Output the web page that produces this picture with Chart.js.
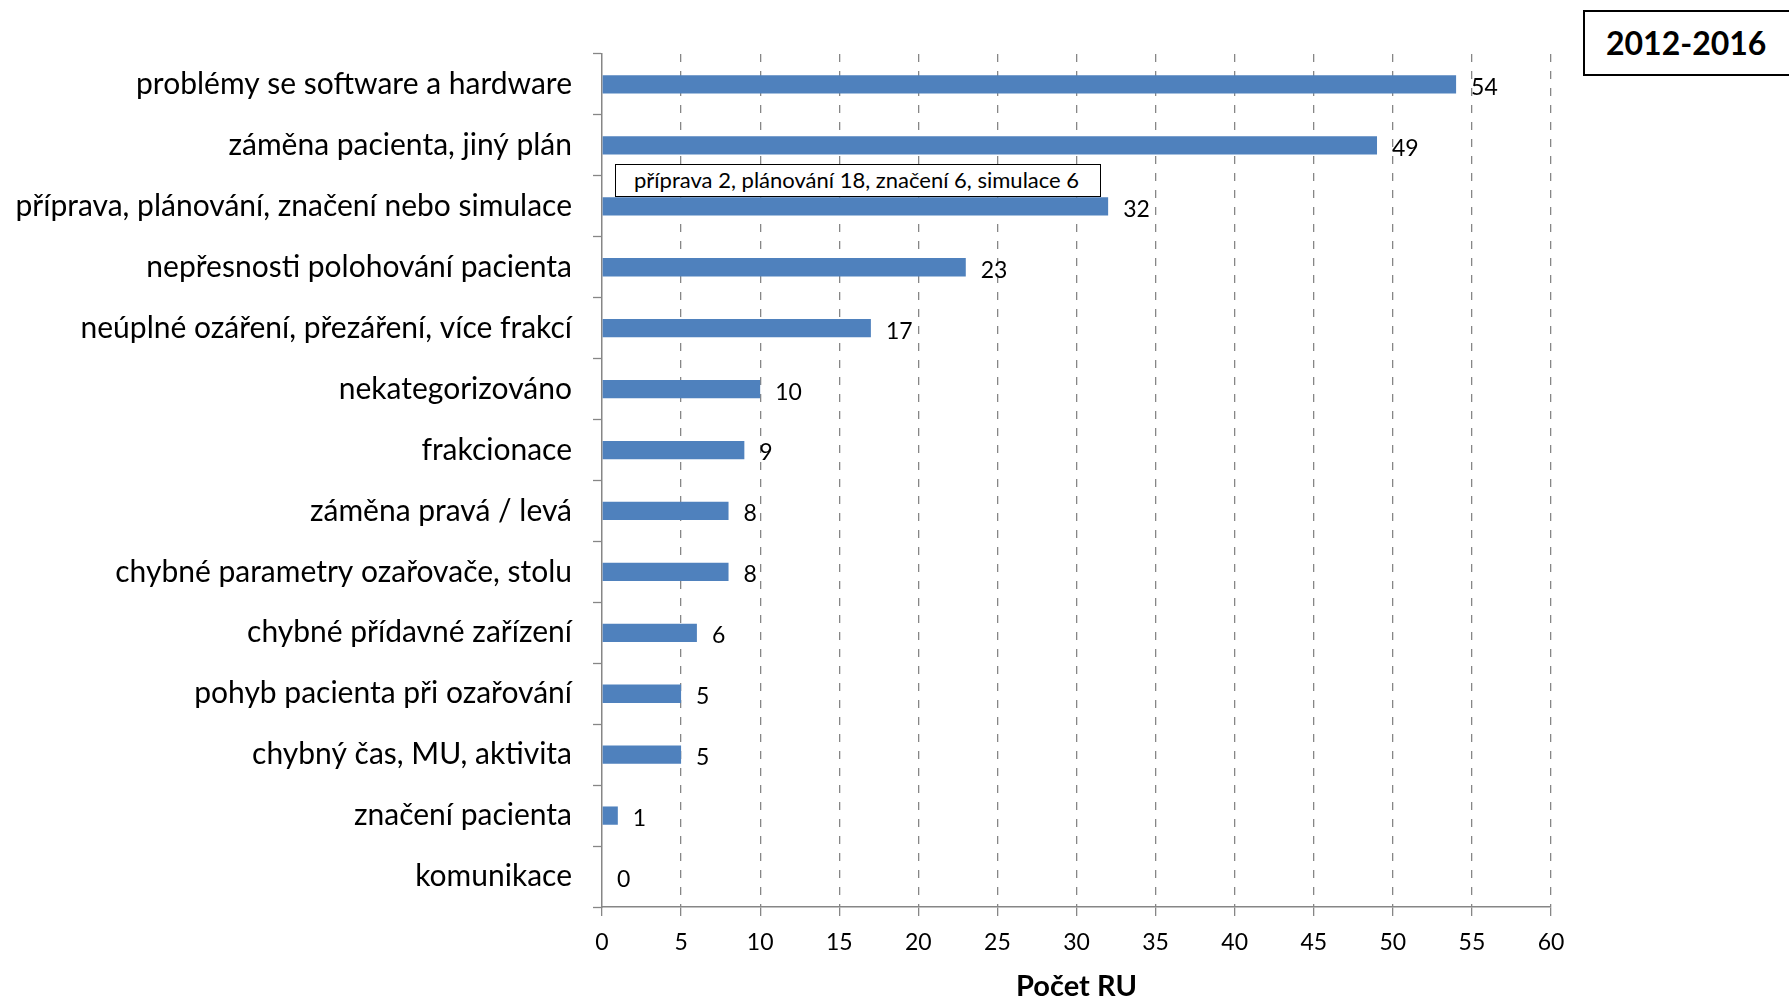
<!DOCTYPE html>
<html lang="cs">
<head>
    <meta charset="UTF-8">
    <title>Počet RU 2012-2016</title>
    <script src="https://cdn.jsdelivr.net/npm/chart.js"></script>
    <style>
        html, body { margin: 0; padding: 0; background: #fff; }
        #wrap { position: relative; width: 1789px; height: 999px; }
        #period {
            position: absolute; left: 1583px; top: 10px; width: 220px; height: 66px;
            border: 2px solid #000; box-sizing: border-box; background: #fff;
            font-family: Lato, sans-serif; font-weight: bold; font-size: 32px;
            line-height: 62px; padding-left: 21px;
        }
        #note {
            position: absolute; left: 615px; top: 164px; width: 486px; height: 33px;
            border: 1.5px solid #000; box-sizing: border-box; background: #fff;
            font-family: Lato, sans-serif; font-size: 22px; line-height: 30px;
            padding-left: 18px; white-space: nowrap;
        }
    </style>
</head>
<body>
<div id="wrap">
    <canvas id="chart" width="1789" height="999"></canvas>
    <div id="period">2012-2016</div>
    <div id="note">příprava 2, plánování 18, značení 6, simulace 6</div>
</div>

<script>
    // kategorie a hodnoty (počet RU)
    const categories = [
        'problémy se software a hardware',
        'záměna pacienta, jiný plán',
        'příprava, plánování, značení nebo simulace',
        'nepřesnosti polohování pacienta',
        'neúplné ozáření, přezáření, více frakcí',
        'nekategorizováno',
        'frakcionace',
        'záměna pravá / levá',
        'chybné parametry ozařovače, stolu',
        'chybné přídavné zařízení',
        'pohyb pacienta při ozařování',
        'chybný čas, MU, aktivita',
        'značení pacienta',
        'komunikace'
    ];
    const counts = [54, 49, 32, 23, 17, 10, 9, 8, 8, 6, 5, 5, 1, 0];
    const xTicks = [0, 5, 10, 15, 20, 25, 30, 35, 40, 45, 50, 55, 60];

    const axisGray = '#868686';
    const fontFamily = 'Lato, sans-serif';

    // popisky hodnot vpravo od sloupců
    const valueLabels = {
        id: 'valueLabels',
        afterDatasetsDraw(chart) {
            const ctx = chart.ctx;
            const meta = chart.getDatasetMeta(0);
            ctx.save();
            ctx.font = '23px ' + fontFamily;
            ctx.fillStyle = '#000';
            ctx.textBaseline = 'middle';
            ctx.textAlign = 'left';
            meta.data.forEach((bar, i) => {
                ctx.fillText(String(counts[i]), bar.x + 15, bar.y + 3);
            });
            ctx.restore();
        }
    };

    new Chart(document.getElementById('chart'), {
        type: 'bar',
        data: {
            labels: categories,
            datasets: [{
                data: counts,
                backgroundColor: '#4F81BD',
                borderWidth: 0,
                barPercentage: 0.3,
                categoryPercentage: 1
            }]
        },
        options: {
            indexAxis: 'y',
            responsive: false,
            animation: false,
            layout: { padding: { top: 54, right: 238, bottom: 0, left: 0 } },
            plugins: {
                legend: { display: false },
                tooltip: { enabled: false }
            },
            scales: {
                x: {
                    min: 0,
                    max: 60,
                    afterBuildTicks(scale) {
                        scale.ticks = xTicks.map(v => ({ value: v }));
                    },
                    afterFit(scale) { scale.height = 92; },
                    grid: {
                        color: ctx => ctx.tick && ctx.tick.value === 0 ? 'rgba(0,0,0,0)' : axisGray,
                        lineWidth: 1.3,
                        drawTicks: true,
                        tickLength: 9,
                        tickColor: axisGray,
                        tickWidth: 1.3,
                        tickBorderDash: []
                    },
                    border: { display: true, color: axisGray, width: 1.5, dash: [8, 9] },
                    ticks: {
                        color: '#000',
                        padding: 13,
                        font: { family: fontFamily, size: 23 },
                        maxRotation: 0
                    },
                    title: {
                        display: true,
                        text: 'Počet RU',
                        color: '#000',
                        font: { family: fontFamily, size: 29, weight: 'bold', lineHeight: 1 },
                        padding: { top: 0, bottom: -2 }
                    }
                },
                y: {
                    afterFit(scale) { scale.width = 602; },
                    grid: {
                        offset: true,
                        drawOnChartArea: false,
                        drawTicks: true,
                        tickLength: 9,
                        tickColor: axisGray,
                        tickWidth: 1.3
                    },
                    border: { display: true, color: axisGray, width: 1.5 },
                    ticks: {
                        color: '#000',
                        padding: 21,
                        autoSkip: false,
                        font: { family: fontFamily, size: 30 }
                    }
                }
            }
        },
        plugins: [valueLabels]
    });
</script>
</body>
</html>
